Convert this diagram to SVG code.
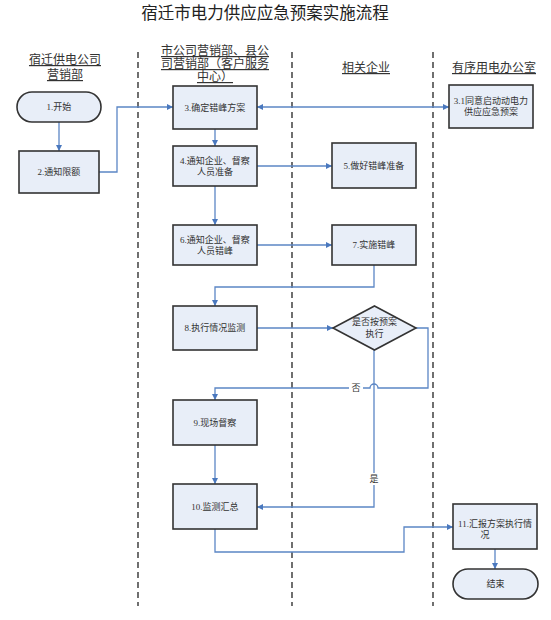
<svg xmlns="http://www.w3.org/2000/svg" width="551" height="620" viewBox="0 0 551 620">
<style>
.t{font-family:"Liberation Serif","Noto Sans CJK SC",serif;fill:#222}
.title{font-size:16.5px}
.hd{font-size:12px;text-anchor:middle;fill:#333}
.u{text-decoration:underline}
.nt{font-family:"Liberation Serif","Noto Sans CJK SC",serif;font-size:9px;fill:#333;text-anchor:middle;dominant-baseline:central}
.box{fill:#E8EEF8;stroke:#333;stroke-width:1.6}
.lane{stroke:#111;stroke-width:1.2;stroke-dasharray:6,4;fill:none}
.c{fill:none;stroke:#5B86C5;stroke-width:1.3}
.lb{font-family:"Liberation Serif","Noto Sans CJK SC",serif;font-size:9px;fill:#333;text-anchor:middle;dominant-baseline:central}
</style>
<defs>
<marker id="ah" viewBox="0 0 10 10" refX="10" refY="5" markerWidth="6" markerHeight="6" orient="auto-start-reverse" markerUnits="userSpaceOnUse">
<path d="M0,0 L10,5 L0,10 z" fill="#4A78BE"/>
</marker>
</defs>
<rect width="551" height="620" fill="#fff"/>
<text class="t title" x="265" y="19" text-anchor="middle">宿迁市电力供应应急预案实施流程</text>
<g id="headers">
<text class="t hd u" x="65" y="64">宿迁供电公司</text>
<text class="t hd u" x="65" y="79">营销部</text>
<text class="t hd u" x="215" y="55">市公司营销部、县公</text>
<text class="t hd u" x="215" y="68">司营销部（客户服务</text>
<text class="t hd u" x="215" y="81">中心）</text>
<text class="t hd u" x="366" y="72">相关企业</text>
<text class="t hd u" x="494" y="72">有序用电办公室</text>
</g>
<g id="lanes">
<line class="lane" x1="138" y1="52" x2="138" y2="606"/>
<line class="lane" x1="292" y1="52" x2="292" y2="606"/>
<line class="lane" x1="433" y1="52" x2="433" y2="606"/>
</g>
<g id="connectors">
<path class="c" d="M59,122 V151" marker-end="url(#ah)"/>
<path class="c" d="M99,172 H117 V107 H173" marker-end="url(#ah)"/>
<path class="c" d="M257,107 H449" marker-start="url(#ah)" marker-end="url(#ah)"/>
<path class="c" d="M215,129 V146" marker-end="url(#ah)"/>
<path class="c" d="M257,166 H332" marker-end="url(#ah)"/>
<path class="c" d="M215,186 V225" marker-end="url(#ah)"/>
<path class="c" d="M257,245 H332" marker-end="url(#ah)"/>
<path class="c" d="M374,265 V287 H215 V306" marker-end="url(#ah)"/>
<path class="c" d="M257,328 H333" marker-end="url(#ah)"/>
<path class="c" d="M416,328 H428 V388 H378 A4,4 0 0 0 370,388 H215 V400" marker-end="url(#ah)"/>
<path class="c" d="M374,350 V507 H257" marker-end="url(#ah)"/>
<path class="c" d="M215,445 V484" marker-end="url(#ah)"/>
<path class="c" d="M215,529 V552 H404 V527 H453" marker-end="url(#ah)"/>
<path class="c" d="M495,549 V569" marker-end="url(#ah)"/>
<rect x="349" y="382" width="14" height="12" fill="#fff"/>
<text class="lb" x="356" y="388">否</text>
<rect x="367" y="473" width="14" height="12" fill="#fff"/>
<text class="lb" x="374" y="479">是</text>
</g>
<g id="n1"><rect class="box" x="17" y="92" width="84" height="30" rx="15"/><text class="nt" x="59" y="107">1.开始</text></g>
<g id="n2"><rect class="box" x="19" y="151" width="80" height="42"/><text class="nt" x="59" y="172">2.通知限额</text></g>
<g id="n3"><rect class="box" x="173" y="86" width="84" height="43"/><text class="nt" x="215" y="107.5">3.确定错峰方案</text></g>
<g id="n31"><rect class="box" x="449" y="85" width="84" height="43"/><text class="nt" x="491" y="101">3.1同意启动动电力</text><text class="nt" x="491" y="112">供应应急预案</text></g>
<g id="n4"><rect class="box" x="173" y="146" width="84" height="40"/><text class="nt" x="215" y="161">4.通知企业、督察</text><text class="nt" x="215" y="171.5">人员准备</text></g>
<g id="n5"><rect class="box" x="332" y="143" width="84" height="45"/><text class="nt" x="374" y="165.5">5.做好错峰准备</text></g>
<g id="n6"><rect class="box" x="173" y="225" width="84" height="40"/><text class="nt" x="215" y="239.5">6.通知企业、督察</text><text class="nt" x="215" y="251">人员错峰</text></g>
<g id="n7"><rect class="box" x="332" y="225" width="84" height="40"/><text class="nt" x="374" y="245">7.实施错峰</text></g>
<g id="n8"><rect class="box" x="173" y="306" width="84" height="44"/><text class="nt" x="215" y="328">8.执行情况监测</text></g>
<g id="d1"><polygon class="box" points="374.5,306 416,328 374.5,350 333,328"/><text class="nt" x="374.5" y="322">是否按预案</text><text class="nt" x="374.5" y="333.5">执行</text></g>
<g id="n9"><rect class="box" x="173" y="400" width="84" height="45"/><text class="nt" x="215" y="422.5">9.现场督察</text></g>
<g id="n10"><rect class="box" x="173" y="484" width="84" height="45"/><text class="nt" x="215" y="506.5">10.监测汇总</text></g>
<g id="n11"><rect class="box" x="453" y="504" width="84" height="45"/><text class="nt" x="495" y="524">11.汇报方案执行情</text><text class="nt" x="485" y="535">况</text></g>
<g id="n12"><rect class="box" x="453" y="569" width="85" height="30" rx="15"/><text class="nt" x="495.5" y="584">结束</text></g>
</svg>
